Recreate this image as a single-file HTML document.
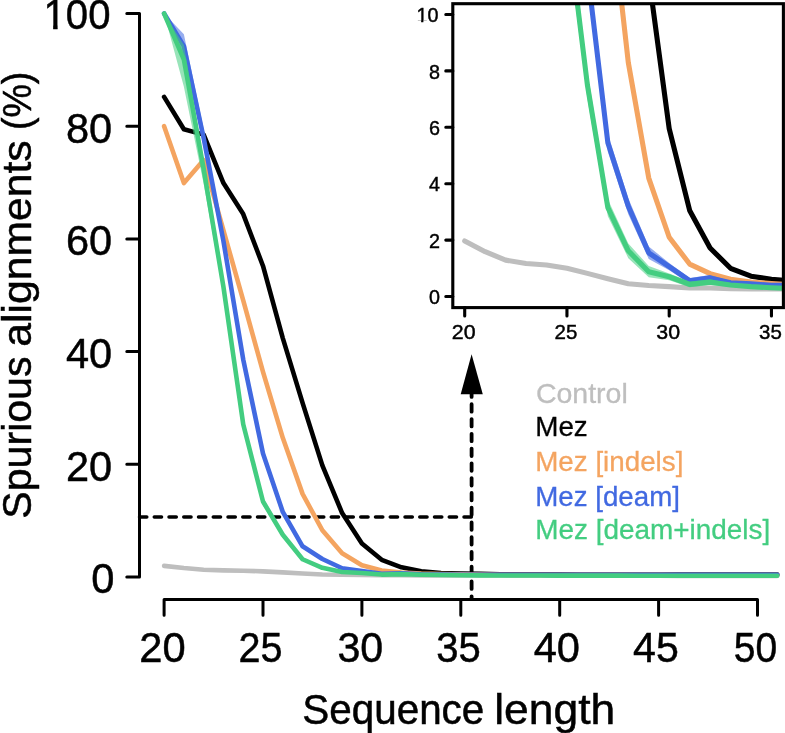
<!DOCTYPE html><html><head><meta charset="utf-8"><title>Spurious alignments</title>
<style>html,body{margin:0;padding:0;background:#fff}svg{display:block}text{font-family:"Liberation Sans",sans-serif;}</style></head><body>
<svg width="785" height="733" viewBox="0 0 785 733">
<rect width="785" height="733" fill="#fff"/>
<defs><clipPath id="ci"><rect x="452.8" y="3.7" width="330.6" height="303.9"/></clipPath>
<clipPath id="c1"><path clip-rule="evenodd" d="M0 0H785V733H0Z M44.75 24.9H53.15V31.5H44.75Z M57.6 24.9H65.5V31.5H57.6Z"/></clipPath>
<clipPath id="c2"><path clip-rule="evenodd" d="M0 0H785V733H0Z M416.25 20.15H421.15V25.0H416.25Z M423.35 20.15H428.0V25.0H423.35Z"/></clipPath>
</defs>
<g fill="none" stroke="#000" stroke-width="3.5" stroke-linecap="round">
<path d="M139.5 517 H471.6" stroke-dasharray="7.3 7.45"/>
<path d="M471.6 389.5 V598" stroke-dasharray="7.4 7.37" stroke-width="3.8"/>
</g>
<path d="M471.6 354.3 L460.7 394.3 L482.8 394.3 Z" fill="#000"/>
<g fill="none" stroke-linecap="round" stroke-linejoin="round">
<path d="M164.10 565.90 L183.88 568.04 L203.66 569.73 L223.44 570.41 L243.22 570.69 L263.00 571.37 L282.78 572.38 L302.56 573.45 L322.34 574.46 L342.12 574.80 L361.90 575.03 L381.68 575.31 L401.46 575.31 L421.24 575.42 L441.02 575.48 L460.80 575.48 L480.58 575.52 L500.36 575.57 L520.14 575.61 L539.92 575.65 L559.70 575.69 L579.48 575.72 L599.26 575.75 L619.04 575.77 L638.82 575.80 L658.60 575.82 L678.38 575.83 L698.16 575.85 L717.94 575.86 L737.72 575.87 L757.50 575.87 L777.28 575.87" stroke="#bebebe" stroke-width="4.6"/>
<path d="M164.10 96.90 L183.88 129.30 L203.66 134.65 L223.44 183.11 L243.22 214.11 L263.00 265.95 L282.78 338.08 L302.56 402.88 L322.34 465.43 L342.12 513.04 L361.90 543.47 L381.68 559.81 L401.46 567.31 L421.24 571.37 L441.02 572.94 L460.80 573.56 L480.58 573.90 L500.36 574.18 L520.14 574.35 L539.92 574.39 L559.70 574.41 L579.48 574.44 L599.26 574.47 L619.04 574.49 L638.82 574.51 L658.60 574.53 L678.38 574.54 L698.16 574.55 L717.94 574.57 L737.72 574.57 L757.50 574.58 L777.28 574.58" stroke="#000000" stroke-width="4.6"/>
<path d="M164.10 126.20 L183.88 183.11 L203.66 160.01 L223.44 230.45 L243.22 300.32 L263.00 371.89 L282.78 437.82 L302.56 493.88 L322.34 530.23 L342.12 553.33 L361.90 565.17 L381.68 570.52 L401.46 572.44 L421.24 573.56 L441.02 574.13 L460.80 574.41 L480.58 574.63 L500.36 574.68 L520.14 574.72 L539.92 574.76 L559.70 574.79 L579.48 574.82 L599.26 574.85 L619.04 574.88 L638.82 574.90 L658.60 574.92 L678.38 574.93 L698.16 574.95 L717.94 574.96 L737.72 574.97 L757.50 574.97 L777.28 574.97" stroke="#f4a460" stroke-width="4.6"/>
<path d="M164.10 13.50 L183.88 34.35 L203.66 129.02 L223.44 234.39 L243.22 353.85 L263.00 449.09 L282.78 508.82 L302.56 544.49 L322.34 557.39 L342.12 567.03 L361.90 570.29 L381.68 573.28 L401.46 572.72 L421.24 573.90 L441.02 574.13 L460.80 574.41 L480.58 574.46 L500.36 574.47 L520.14 574.48 L539.92 574.49 L559.70 574.49 L579.48 574.50 L599.26 574.50 L619.04 574.50 L638.82 574.51 L658.60 574.51 L678.38 574.51 L698.16 574.51 L717.94 574.52 L737.72 574.52 L757.50 574.52 L777.28 574.52 L777.28 575.20 L757.50 575.20 L737.72 575.20 L717.94 575.20 L698.16 575.19 L678.38 575.19 L658.60 575.19 L638.82 575.19 L619.04 575.18 L599.26 575.17 L579.48 575.17 L559.70 575.17 L539.92 575.16 L520.14 575.15 L500.36 575.15 L480.58 575.14 L460.80 575.08 L441.02 574.80 L421.24 574.58 L401.46 573.84 L381.68 574.41 L361.90 571.76 L342.12 569.51 L322.34 560.55 L302.56 548.09 L282.78 515.01 L263.00 458.10 L243.22 365.12 L223.44 247.92 L203.66 147.05 L183.88 54.64 L164.10 13.50Z" fill="#4169e1" fill-opacity="0.55" stroke="none"/>
<path d="M164.10 13.50 L183.88 46.18 L203.66 138.03 L223.44 241.15 L243.22 359.49 L263.00 453.59 L282.78 511.92 L302.56 546.29 L322.34 558.97 L342.12 568.27 L361.90 571.03 L381.68 573.84 L401.46 573.28 L421.24 574.24 L441.02 574.46 L460.80 574.75 L480.58 574.80 L500.36 574.81 L520.14 574.81 L539.92 574.82 L559.70 574.83 L579.48 574.84 L599.26 574.84 L619.04 574.84 L638.82 574.85 L658.60 574.85 L678.38 574.85 L698.16 574.85 L717.94 574.86 L737.72 574.86 L757.50 574.86 L777.28 574.86" stroke="#4169e1" stroke-width="4.6"/>
<path d="M164.10 13.50 L183.88 45.06 L203.66 160.01 L223.44 280.60 L243.22 419.22 L263.00 497.55 L282.78 531.92 L302.56 557.56 L322.34 566.41 L342.12 570.91 L361.90 572.38 L381.68 574.01 L401.46 573.56 L421.24 574.35 L441.02 574.69 L460.80 574.92 L480.58 575.08 L500.36 575.13 L520.14 575.17 L539.92 575.21 L559.70 575.24 L579.48 575.27 L599.26 575.30 L619.04 575.33 L638.82 575.35 L658.60 575.37 L678.38 575.38 L698.16 575.40 L717.94 575.41 L737.72 575.42 L757.50 575.42 L777.28 575.42 L777.28 576.10 L757.50 576.10 L737.72 576.09 L717.94 576.09 L698.16 576.08 L678.38 576.06 L658.60 576.04 L638.82 576.03 L619.04 576.00 L599.26 575.97 L579.48 575.95 L559.70 575.92 L539.92 575.88 L520.14 575.84 L500.36 575.81 L480.58 575.76 L460.80 575.59 L441.02 575.37 L421.24 575.03 L401.46 574.69 L381.68 575.14 L361.90 573.73 L342.12 573.17 L322.34 569.34 L302.56 560.94 L282.78 537.55 L263.00 505.44 L243.22 429.36 L223.44 294.12 L203.66 183.68 L183.88 86.75 L164.10 13.50Z" fill="#43cd80" fill-opacity="0.55" stroke="none"/>
<path d="M164.10 13.50 L183.88 59.71 L203.66 169.03 L223.44 286.80 L243.22 424.29 L263.00 501.49 L282.78 534.74 L302.56 559.25 L322.34 567.87 L342.12 572.04 L361.90 573.06 L381.68 574.58 L401.46 574.13 L421.24 574.69 L441.02 575.03 L460.80 575.25 L480.58 575.42 L500.36 575.47 L520.14 575.51 L539.92 575.55 L559.70 575.58 L579.48 575.61 L599.26 575.64 L619.04 575.66 L638.82 575.69 L658.60 575.70 L678.38 575.72 L698.16 575.74 L717.94 575.75 L737.72 575.75 L757.50 575.76 L777.28 575.76" stroke="#43cd80" stroke-width="4.6"/>
</g>
<g fill="none" stroke="#000" stroke-width="3.0" stroke-linecap="round" stroke-linejoin="round">
<path d="M139.5 577.00 V13.50 M139.5 577.00 H126.8 M139.5 464.30 H126.8 M139.5 351.60 H126.8 M139.5 238.90 H126.8 M139.5 126.20 H126.8 M139.5 13.50 H126.8"/>
<path d="M164.10 599.5 H757.50 M164.10 599.5 V615.3 M263.00 599.5 V615.3 M361.90 599.5 V615.3 M460.80 599.5 V615.3 M559.70 599.5 V615.3 M658.60 599.5 V615.3 M757.50 599.5 V615.3"/>
</g>
<rect x="452.8" y="3.7" width="330.6" height="303.9" fill="#fff"/>
<g fill="none" stroke-linecap="round" stroke-linejoin="round" clip-path="url(#ci)">
<path d="M464.70 240.95 L485.15 251.66 L505.60 260.12 L526.05 263.51 L546.50 264.92 L566.95 268.30 L587.40 273.38 L607.85 278.73 L628.30 283.81 L648.75 285.50 L669.20 286.63 L689.65 288.04 L710.10 288.04 L730.55 288.60 L751.00 288.89 L771.45 288.89 L791.90 289.11 L812.35 289.34 L832.80 289.56 L853.25 289.76 L873.70 289.93 L894.15 290.10 L914.60 290.24 L935.05 290.35 L955.50 290.49 L975.95 290.58 L996.40 290.66 L1016.85 290.75 L1037.30 290.80 L1057.75 290.83 L1078.20 290.86 L1098.65 290.86" stroke="#bebebe" stroke-width="5.1"/>
<path d="M464.70 -2106.14 L485.15 -1943.99 L505.60 -1917.20 L526.05 -1674.68 L546.50 -1519.58 L566.95 -1260.14 L587.40 -899.18 L607.85 -574.88 L628.30 -261.86 L648.75 -23.57 L669.20 128.71 L689.65 210.49 L710.10 248.00 L730.55 268.30 L751.00 276.20 L771.45 279.30 L791.90 280.99 L812.35 282.40 L832.80 283.25 L853.25 283.42 L873.70 283.56 L894.15 283.70 L914.60 283.84 L935.05 283.95 L955.50 284.04 L975.95 284.12 L996.40 284.20 L1016.85 284.26 L1037.30 284.32 L1057.75 284.35 L1078.20 284.37 L1098.65 284.37" stroke="#000000" stroke-width="5.1"/>
<path d="M464.70 -1959.50 L485.15 -1674.68 L505.60 -1790.30 L526.05 -1437.80 L546.50 -1088.12 L566.95 -729.98 L587.40 -400.04 L607.85 -119.45 L628.30 62.44 L648.75 178.06 L669.20 237.28 L689.65 264.07 L710.10 273.66 L730.55 279.30 L751.00 282.12 L771.45 283.53 L791.90 284.66 L812.35 284.88 L832.80 285.08 L853.25 285.28 L873.70 285.45 L894.15 285.59 L914.60 285.73 L935.05 285.87 L955.50 285.98 L975.95 286.07 L996.40 286.15 L1016.85 286.24 L1037.30 286.29 L1057.75 286.32 L1078.20 286.35 L1098.65 286.35" stroke="#f4a460" stroke-width="5.1"/>
<path d="M464.70 -2523.50 L485.15 -2419.16 L505.60 -1945.40 L526.05 -1418.06 L546.50 -820.22 L566.95 -343.64 L587.40 -44.72 L607.85 133.79 L628.30 198.36 L648.75 246.59 L669.20 262.94 L689.65 277.89 L710.10 275.07 L730.55 280.99 L751.00 282.12 L771.45 283.53 L791.90 283.81 L812.35 283.84 L832.80 283.87 L853.25 283.92 L873.70 283.95 L894.15 283.98 L914.60 283.98 L935.05 284.01 L955.50 284.04 L975.95 284.04 L996.40 284.06 L1016.85 284.06 L1037.30 284.09 L1057.75 284.09 L1078.20 284.09 L1098.65 284.09 L1098.65 287.48 L1078.20 287.48 L1057.75 287.48 L1037.30 287.48 L1016.85 287.45 L996.40 287.45 L975.95 287.42 L955.50 287.42 L935.05 287.39 L914.60 287.36 L894.15 287.36 L873.70 287.33 L853.25 287.31 L832.80 287.25 L812.35 287.22 L791.90 287.19 L771.45 286.91 L751.00 285.50 L730.55 284.37 L710.10 280.71 L689.65 283.53 L669.20 270.27 L648.75 258.99 L628.30 214.16 L607.85 151.83 L587.40 -13.70 L566.95 -298.52 L546.50 -763.82 L526.05 -1350.38 L505.60 -1855.16 L485.15 -2317.64 L464.70 -2523.50Z" fill="#4169e1" fill-opacity="0.55" stroke="none"/>
<path d="M464.70 -2523.50 L485.15 -2359.94 L505.60 -1900.28 L526.05 -1384.22 L546.50 -792.02 L566.95 -321.08 L587.40 -29.21 L607.85 142.81 L628.30 206.26 L648.75 252.79 L669.20 266.61 L689.65 280.71 L710.10 277.89 L730.55 282.68 L751.00 283.81 L771.45 285.22 L791.90 285.50 L812.35 285.53 L832.80 285.56 L853.25 285.61 L873.70 285.64 L894.15 285.67 L914.60 285.67 L935.05 285.70 L955.50 285.73 L975.95 285.73 L996.40 285.76 L1016.85 285.76 L1037.30 285.78 L1057.75 285.78 L1078.20 285.78 L1098.65 285.78" stroke="#4169e1" stroke-width="5.1"/>
<path d="M464.70 -2523.50 L485.15 -2365.58 L505.60 -1790.30 L526.05 -1186.82 L546.50 -493.10 L566.95 -101.12 L587.40 70.90 L607.85 199.21 L628.30 243.48 L648.75 266.04 L669.20 273.38 L689.65 281.55 L710.10 279.30 L730.55 283.25 L751.00 284.94 L771.45 286.07 L791.90 286.91 L812.35 287.14 L832.80 287.33 L853.25 287.53 L873.70 287.70 L894.15 287.84 L914.60 287.98 L935.05 288.12 L955.50 288.24 L975.95 288.32 L996.40 288.41 L1016.85 288.49 L1037.30 288.55 L1057.75 288.58 L1078.20 288.60 L1098.65 288.60 L1098.65 291.99 L1078.20 291.99 L1057.75 291.96 L1037.30 291.93 L1016.85 291.88 L996.40 291.79 L975.95 291.71 L955.50 291.62 L935.05 291.51 L914.60 291.37 L894.15 291.23 L873.70 291.09 L853.25 290.92 L832.80 290.72 L812.35 290.52 L791.90 290.30 L771.45 289.45 L751.00 288.32 L730.55 286.63 L710.10 284.94 L689.65 287.19 L669.20 280.14 L648.75 277.32 L628.30 258.15 L607.85 216.13 L587.40 99.10 L566.95 -61.64 L546.50 -442.34 L526.05 -1119.14 L505.60 -1671.86 L485.15 -2156.90 L464.70 -2523.50Z" fill="#43cd80" fill-opacity="0.55" stroke="none"/>
<path d="M464.70 -2523.50 L485.15 -2292.26 L505.60 -1745.18 L526.05 -1155.80 L546.50 -467.72 L566.95 -81.38 L587.40 85.00 L607.85 207.67 L628.30 250.82 L648.75 271.68 L669.20 276.76 L689.65 284.37 L710.10 282.12 L730.55 284.94 L751.00 286.63 L771.45 287.76 L791.90 288.60 L812.35 288.83 L832.80 289.03 L853.25 289.22 L873.70 289.39 L894.15 289.53 L914.60 289.68 L935.05 289.82 L955.50 289.93 L975.95 290.01 L996.40 290.10 L1016.85 290.18 L1037.30 290.24 L1057.75 290.27 L1078.20 290.30 L1098.65 290.30" stroke="#43cd80" stroke-width="5.1"/>
</g>
<g fill="none" stroke="#000" stroke-width="3.1" stroke-linecap="round" stroke-linejoin="miter">
<rect x="452.8" y="3.7" width="330.6" height="303.9" stroke-linejoin="miter"/>
<path d="M452.8 296.50 H445.8 M452.8 240.10 H445.8 M452.8 183.70 H445.8 M452.8 127.30 H445.8 M452.8 70.90 H445.8 M452.8 14.50 H445.8 M464.70 307.6 V316 M566.95 307.6 V316 M669.20 307.6 V316 M771.45 307.6 V316 "/>
</g>
<g opacity="0.999">
<text x="114.4" y="593.4" font-size="42.5" text-anchor="end" fill="#000" textLength="23.2" lengthAdjust="spacingAndGlyphs" stroke="#000" stroke-width="0.5">0</text>
<text x="112.2" y="480.7" font-size="42.5" text-anchor="end" fill="#000" textLength="46.2" lengthAdjust="spacingAndGlyphs" stroke="#000" stroke-width="0.5">20</text>
<text x="112.2" y="368.0" font-size="42.5" text-anchor="end" fill="#000" textLength="46.2" lengthAdjust="spacingAndGlyphs" stroke="#000" stroke-width="0.5">40</text>
<text x="112.2" y="255.3" font-size="42.5" text-anchor="end" fill="#000" textLength="46.2" lengthAdjust="spacingAndGlyphs" stroke="#000" stroke-width="0.5">60</text>
<text x="112.2" y="142.6" font-size="42.5" text-anchor="end" fill="#000" textLength="46.2" lengthAdjust="spacingAndGlyphs" stroke="#000" stroke-width="0.5">80</text>
<text x="110.5" y="28.7" font-size="42.5" text-anchor="end" fill="#000" textLength="67.0" lengthAdjust="spacingAndGlyphs" stroke="#000" stroke-width="0.5" clip-path="url(#c1)">100</text>
<text x="162.4" y="661.8" font-size="42.5" text-anchor="middle" fill="#000" textLength="46.4" lengthAdjust="spacingAndGlyphs" stroke="#000" stroke-width="0.5">20</text>
<text x="260.4" y="661.8" font-size="42.5" text-anchor="middle" fill="#000" textLength="44.0" lengthAdjust="spacingAndGlyphs" stroke="#000" stroke-width="0.5">25</text>
<text x="360.3" y="661.8" font-size="42.5" text-anchor="middle" fill="#000" textLength="45.8" lengthAdjust="spacingAndGlyphs" stroke="#000" stroke-width="0.5">30</text>
<text x="458.4" y="661.8" font-size="42.5" text-anchor="middle" fill="#000" textLength="44.5" lengthAdjust="spacingAndGlyphs" stroke="#000" stroke-width="0.5">35</text>
<text x="556.8" y="661.8" font-size="42.5" text-anchor="middle" fill="#000" textLength="46.3" lengthAdjust="spacingAndGlyphs" stroke="#000" stroke-width="0.5">40</text>
<text x="655.9" y="661.8" font-size="42.5" text-anchor="middle" fill="#000" textLength="45.7" lengthAdjust="spacingAndGlyphs" stroke="#000" stroke-width="0.5">45</text>
<text x="755.5" y="661.8" font-size="42.5" text-anchor="middle" fill="#000" textLength="43.4" lengthAdjust="spacingAndGlyphs" stroke="#000" stroke-width="0.5">50</text>
<text x="302.3" y="723.9" font-size="42.2" text-anchor="start" fill="#000" stroke="#000" stroke-width="0.5"><tspan x="302.3" textLength="182" lengthAdjust="spacingAndGlyphs">Sequence</tspan> <tspan x="494.2" textLength="121" lengthAdjust="spacingAndGlyphs">length</tspan></text>
<text x="0" y="0" font-size="41.5" text-anchor="start" fill="#000" stroke="#000" stroke-width="0.5" transform="translate(30.6 518.4) rotate(-90)"><tspan x="-0.25" textLength="162.15" lengthAdjust="spacingAndGlyphs">Spurious</tspan> <tspan x="171.6" textLength="206.5" lengthAdjust="spacingAndGlyphs">alignments</tspan> <tspan x="388.3" textLength="58.5" lengthAdjust="spacingAndGlyphs">(%)</tspan></text>
<text x="535.9" y="402.70000000000005" font-size="27.9" text-anchor="start" fill="#bebebe" textLength="91.9" lengthAdjust="spacingAndGlyphs" stroke="#bebebe" stroke-width="0.3">Control</text>
<text x="535.2" y="436.40000000000003" font-size="27.9" text-anchor="start" fill="#000000" textLength="52.6" lengthAdjust="spacingAndGlyphs" stroke="#000000" stroke-width="0.3">Mez</text>
<text x="535.2" y="471.20000000000005" font-size="27.9" text-anchor="start" fill="#f4a460" textLength="148.2" lengthAdjust="spacingAndGlyphs" stroke="#f4a460" stroke-width="0.3">Mez [indels]</text>
<text x="535.2" y="505.6" font-size="27.9" text-anchor="start" fill="#4169e1" textLength="144.8" lengthAdjust="spacingAndGlyphs" stroke="#4169e1" stroke-width="0.3">Mez [deam]</text>
<text x="535.2" y="539.4" font-size="27.9" text-anchor="start" fill="#43cd80" textLength="235" lengthAdjust="spacingAndGlyphs" stroke="#43cd80" stroke-width="0.3">Mez [deam+indels]</text>
<text x="440" y="304.2" font-size="20.8" text-anchor="end" fill="#000" textLength="11.0" lengthAdjust="spacingAndGlyphs" stroke="#000" stroke-width="0.45">0</text>
<text x="440" y="247.8" font-size="20.8" text-anchor="end" fill="#000" textLength="11.0" lengthAdjust="spacingAndGlyphs" stroke="#000" stroke-width="0.45">2</text>
<text x="440" y="191.4" font-size="20.8" text-anchor="end" fill="#000" textLength="11.0" lengthAdjust="spacingAndGlyphs" stroke="#000" stroke-width="0.45">4</text>
<text x="440" y="135.0" font-size="20.8" text-anchor="end" fill="#000" textLength="11.0" lengthAdjust="spacingAndGlyphs" stroke="#000" stroke-width="0.45">6</text>
<text x="440" y="78.6" font-size="20.8" text-anchor="end" fill="#000" textLength="11.0" lengthAdjust="spacingAndGlyphs" stroke="#000" stroke-width="0.45">8</text>
<text x="438.4" y="22.2" font-size="20.8" text-anchor="end" fill="#000" textLength="22" lengthAdjust="spacingAndGlyphs" stroke="#000" stroke-width="0.45" clip-path="url(#c2)">10</text>
<text x="463.7" y="339.2" font-size="20.8" text-anchor="middle" fill="#000" textLength="23.8" lengthAdjust="spacingAndGlyphs" stroke="#000" stroke-width="0.45">20</text>
<text x="566.0" y="339.2" font-size="20.8" text-anchor="middle" fill="#000" textLength="22.8" lengthAdjust="spacingAndGlyphs" stroke="#000" stroke-width="0.45">25</text>
<text x="668.2" y="339.2" font-size="20.8" text-anchor="middle" fill="#000" textLength="23.8" lengthAdjust="spacingAndGlyphs" stroke="#000" stroke-width="0.45">30</text>
<text x="770.5" y="339.2" font-size="20.8" text-anchor="middle" fill="#000" textLength="22.8" lengthAdjust="spacingAndGlyphs" stroke="#000" stroke-width="0.45">35</text>
</g>
</svg></body></html>
